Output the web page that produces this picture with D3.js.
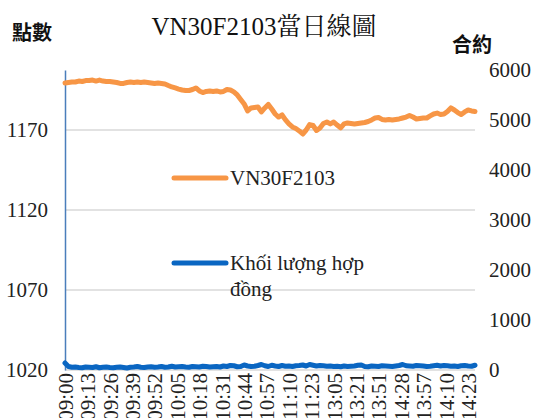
<!DOCTYPE html>
<html>
<head>
<meta charset="utf-8">
<script src="https://cdn.jsdelivr.net/npm/d3@7"></script>
<style>
  body { margin: 0; background: #fff; }
</style>
</head>
<body>
<div id="chart"></div>
<script>
// Tick labels on the time axis (one every 13 minutes of trading).
const timeLabels = ["09:00", "09:13", "09:26", "09:39", "09:52", "10:05", "10:18", "10:31", "10:44", "10:57",
    "11:10", "11:23", "13:05", "13:21", "13:51", "14:28", "13:57", "14:10", "14:23"];

// Index price, sampled every 2 minutes.
const priceValues = [
    1199.4, 1199.7, 1200.0, 1200.0, 1200.6, 1200.3, 1200.9, 1200.9, 1201.2, 1200.6,
    1201.2, 1200.6, 1200.3, 1200.3, 1200.0, 1199.7, 1199.1, 1199.1, 1199.7, 1200.0,
    1199.7, 1200.0, 1199.7, 1200.0, 1199.7, 1199.4, 1199.1, 1199.4, 1199.1, 1198.8,
    1197.8, 1196.9, 1196.3, 1195.6, 1195.0, 1194.7, 1194.7, 1195.3, 1196.3, 1194.4,
    1193.4, 1194.1, 1194.4, 1194.1, 1194.4, 1193.8, 1194.1, 1195.3, 1195.0, 1193.8,
    1191.9, 1189.1, 1186.3, 1181.9, 1183.8, 1184.1, 1184.4, 1181.3, 1183.8, 1186.0,
    1183.1, 1180.0, 1178.1, 1179.4, 1176.3, 1173.8, 1171.9, 1170.9, 1169.4, 1167.5,
    1170.0, 1173.4, 1172.8, 1169.7, 1171.3, 1174.1, 1175.0, 1173.8, 1175.0, 1173.1,
    1171.3, 1173.8, 1174.4, 1174.1, 1173.8, 1174.1, 1174.4, 1174.7, 1175.3, 1176.3,
    1177.5, 1177.8, 1176.6, 1176.3, 1176.6, 1176.3, 1176.6, 1176.9, 1177.5, 1178.1,
    1179.1, 1178.1, 1176.9, 1177.2, 1177.5, 1177.5, 1178.8, 1180.0, 1180.6, 1179.7,
    1180.0, 1181.6, 1183.8, 1182.5, 1180.9, 1179.7, 1181.3, 1182.5, 1181.9, 1181.6
];

// Contract volume, same sampling.
const volumeValues = [
    140, 70, 55, 60, 50, 45, 60, 55, 50, 65,
    45, 55, 60, 50, 45, 55, 60, 50, 40, 55,
    60, 70, 55, 50, 60, 65, 55, 60, 70, 55,
    60, 75, 60, 65, 70, 60, 55, 70, 65, 60,
    75, 70, 60, 65, 70, 60, 80, 70, 90, 85,
    65, 70, 100, 80, 70, 75, 90, 110, 85, 70,
    95, 80, 70, 90, 75, 80, 70, 85, 90, 100,
    80, 110, 95, 80, 90, 85, 75, 80, 70, 75,
    65, 80, 70, 75, 80, 95, 100, 70, 65, 80,
    75, 70, 85, 80, 75, 70, 80, 90, 110, 85,
    80, 75, 90, 85, 80, 70, 75, 85, 95, 80,
    90, 85, 75, 80, 70, 85, 90, 80, 75, 95
];

const priceTicks = [1020, 1070, 1120, 1170];
const volumeTicks = [0, 1000, 2000, 3000, 4000, 5000, 6000];

const width = 547;
const height = 418;
const margin = { top: 70, right: 72, bottom: 48, left: 65 };
const step = 2;          // minutes between samples
const labelEvery = 13;   // minutes between tick labels
const lastIndex = (priceValues.length - 1) * step;

const svg = d3.select("#chart")
    .append("svg")
    .attr("width", width)
    .attr("height", height)
    .style("font-family", "'Liberation Serif', 'Noto Serif CJK TC'");

const xScale = d3.scaleLinear()
    .domain([0, lastIndex])
    .range([margin.left, width - margin.right]);

const yLeft = d3.scaleLinear()
    .domain([1020, 1207.5])
    .range([height - margin.bottom, margin.top]);

const yRight = d3.scaleLinear()
    .domain([0, 6000])
    .range([height - margin.bottom, margin.top]);

// Horizontal gridlines at the left axis ticks.
svg.append("g")
    .selectAll("line")
    .data(priceTicks)
    .join("line")
    .attr("x1", margin.left)
    .attr("x2", width - margin.right)
    .attr("y1", d => yLeft(d))
    .attr("y2", d => yLeft(d))
    .attr("stroke", "#d9d9d9")
    .attr("stroke-width", 1.5);

// Left axis (price).
const leftAxis = svg.append("g")
    .attr("transform", `translate(${margin.left}, 0)`)
    .call(d3.axisLeft(yLeft).tickValues(priceTicks).tickSize(0).tickPadding(17).tickFormat(d3.format("d")))
    .attr("font-family", null)
    .attr("font-size", null);
leftAxis.select(".domain").attr("stroke", "#4a7ebb").attr("stroke-width", 1.5);
leftAxis.selectAll("text")
    .style("font-size", "21px")
    .attr("fill", "#222");

// Right axis (volume).
const rightAxis = svg.append("g")
    .attr("transform", `translate(${width - margin.right}, 0)`)
    .call(d3.axisRight(yRight).tickValues(volumeTicks).tickSize(0).tickPadding(14).tickFormat(d3.format("d")))
    .attr("font-family", null)
    .attr("font-size", null);
rightAxis.select(".domain").remove();
rightAxis.selectAll("text")
    .style("font-size", "21px")
    .attr("fill", "#222");

// Bottom axis with rotated time labels.
const tickIdx = timeLabels.map((d, i) => i * labelEvery);
const bottomAxis = svg.append("g")
    .attr("transform", `translate(0, ${height - margin.bottom})`)
    .call(d3.axisBottom(xScale).tickValues(tickIdx).tickSize(0)
        .tickFormat((d, i) => timeLabels[i]))
    .attr("font-family", null)
    .attr("font-size", null);
bottomAxis.select(".domain").remove();
bottomAxis.selectAll("text")
    .attr("x", -3)
    .attr("y", 0)
    .attr("dy", "0.35em")
    .attr("transform", "rotate(-90)")
    .style("text-anchor", "end")
    .style("font-size", "21px")
    .attr("fill", "#222");

// Volume line.
const volumeLine = d3.line()
    .x((d, i) => xScale(i * step))
    .y(d => yRight(d));
svg.append("path")
    .datum(volumeValues)
    .attr("d", volumeLine)
    .attr("fill", "none")
    .attr("stroke", "#0a66c2")
    .attr("stroke-width", 5)
    .attr("stroke-linejoin", "round")
    .attr("stroke-linecap", "round");

// Price line.
const priceLine = d3.line()
    .x((d, i) => xScale(i * step))
    .y(d => yLeft(d));
svg.append("path")
    .datum(priceValues)
    .attr("d", priceLine)
    .attr("fill", "none")
    .attr("stroke", "#f79646")
    .attr("stroke-width", 5)
    .attr("stroke-linejoin", "round")
    .attr("stroke-linecap", "round");

// Legend.
const legend = [
    { label: ["VN30F2103"], color: "#f79646", y: 178 },
    { label: ["Khối lượng hợp", "đồng"], color: "#0a66c2", y: 263 }
];
legend.forEach(function(item) {
    svg.append("line")
        .attr("x1", 174).attr("x2", 226)
        .attr("y1", item.y).attr("y2", item.y)
        .attr("stroke", item.color)
        .attr("stroke-width", 5)
        .attr("stroke-linecap", "round");
    item.label.forEach(function(t, j) {
        svg.append("text")
            .attr("x", 230)
            .attr("y", item.y + 7 + j * 26)
            .style("font-size", "21px")
            .attr("fill", "#222")
            .text(t);
    });
});

// Title and axis captions.
svg.append("text")
    .attr("x", 264)
    .attr("y", 35)
    .attr("text-anchor", "middle")
    .style("font-size", "25px")
    .attr("fill", "#111")
    .text("VN30F2103當日線圖");

svg.append("text")
    .attr("x", 12)
    .attr("y", 40)
    .style("font-family", "'Noto Sans CJK TC'")
    .style("font-size", "20px")
    .style("font-weight", "bold")
    .attr("fill", "#111")
    .text("點數");

svg.append("text")
    .attr("x", 452)
    .attr("y", 52)
    .style("font-family", "'Noto Sans CJK TC'")
    .style("font-size", "20px")
    .style("font-weight", "bold")
    .attr("fill", "#111")
    .text("合約");
</script>
</body>
</html>
